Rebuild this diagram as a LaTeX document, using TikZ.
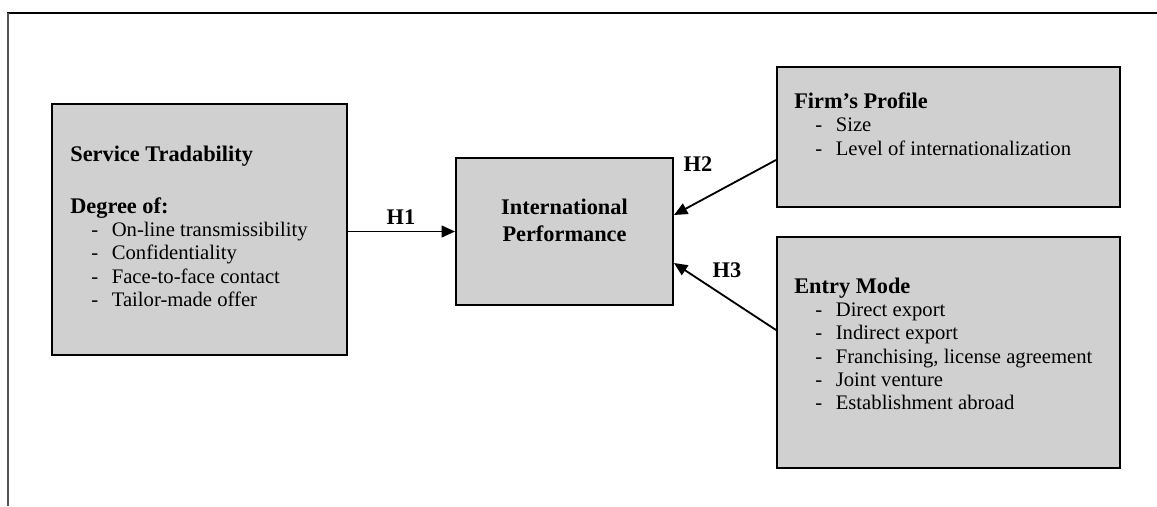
\documentclass[tikz,border=0pt]{standalone}
\usepackage{fontspec}
\setmainfont{Liberation Serif}
\usetikzlibrary{positioning,arrows.meta}
\definecolor{boxgray}{RGB}{208,208,208}
\definecolor{framegray}{RGB}{85,85,85}
\newcommand{\itm}[1]{\hspace*{12.6pt}\makebox[12.3pt][l]{-}#1}
\newcommand{\hd}[1]{{\fontsize{13.4}{14}\selectfont\bfseries #1}}
\tikzset{
  box/.style={
    draw,
    line width=1.2pt,
    fill=boxgray,
    inner sep=0pt
  },
  boxtext/.style={
    inner sep=0pt,
    font=\fontsize{12.4}{14}\selectfont
  },
  hyp/.style={
    line width=1.1pt,
    -{Triangle[length=8pt,width=7pt]}
  },
  hlabel/.style={
    anchor=base,
    inner sep=0pt,
    font=\fontsize{13.4}{14}\selectfont\bfseries
  }
}

\begin{document}
\begin{tikzpicture}[x=0.6pt,y=-0.6pt]
      \useasboundingbox (0,0) rectangle (1157,506);
      % frame
      \draw[line width=0.8pt] (7,13) -- (1157,13);
      \draw[framegray, line width=1.6pt] (8,13) -- (8,506);

      \node [box, minimum width=177pt, minimum height=150.6pt] (Service) at (199.5,229.5) {};
      \node [box, minimum width=130.2pt, minimum height=88.2pt] (Intl) at (564.5,231.5) {};
      \node [box, minimum width=205.8pt, minimum height=84pt] (Firm) at (948.5,137) {};
      \node [box, minimum width=205.8pt, minimum height=138.6pt] (Entry) at (948.5,352.5) {};

      \node [boxtext, on grid, below right=34.8pt and 11.4pt of Service.north west, anchor=base west] (ServiceTxt) {%
        \begin{tabular}[t]{@{}l@{}}
          \hd{Service Tradability}\\[17.2pt]
          \hd{Degree of:}\\
          \itm{On-line transmissibility}\\
          \itm{Confidentiality}\\
          \itm{Face-to-face contact}\\
          \itm{Tailor-made offer}
        \end{tabular}};
      \node [boxtext, on grid, below=34.2pt of Intl.north, anchor=base] (IntlTxt) {%
        \begin{tabular}[t]{@{}c@{}}
          \hd{International}\\[2.2pt]
          \hd{Performance}
        \end{tabular}};
      \node [boxtext, on grid, below right=25.4pt and 10.8pt of Firm.north west, anchor=base west] (FirmTxt) {%
        \begin{tabular}[t]{@{}l@{}}
          \hd{Firm’s Profile}\\
          \itm{Size}\\
          \itm{Level of internationalization}
        \end{tabular}};
      \node [boxtext, on grid, below right=34.2pt and 10.8pt of Entry.north west, anchor=base west] (EntryTxt) {%
        \begin{tabular}[t]{@{}l@{}}
          \hd{Entry Mode}\\
          \itm{Direct export}\\
          \itm{Indirect export}\\
          \itm{Franchising, license agreement}\\
          \itm{Joint venture}\\
          \itm{Establishment abroad}
        \end{tabular}};

      \draw[hyp] (Service.east |- Intl.west) -- (Intl.west);
      \draw[hyp] ([yshift=-13.8pt]Firm.west) -- ([yshift=9.9pt]Intl.east);
      \draw[hyp] ([yshift=13.5pt]Entry.west) -- ([yshift=-18.9pt]Intl.east);

      \node [hlabel] (H1) at (401,224) {H1};
      \node [hlabel] (H2) at (698,171) {H2};
      \node [hlabel] (H3) at (727,277) {H3};
\end{tikzpicture}
\end{document}
